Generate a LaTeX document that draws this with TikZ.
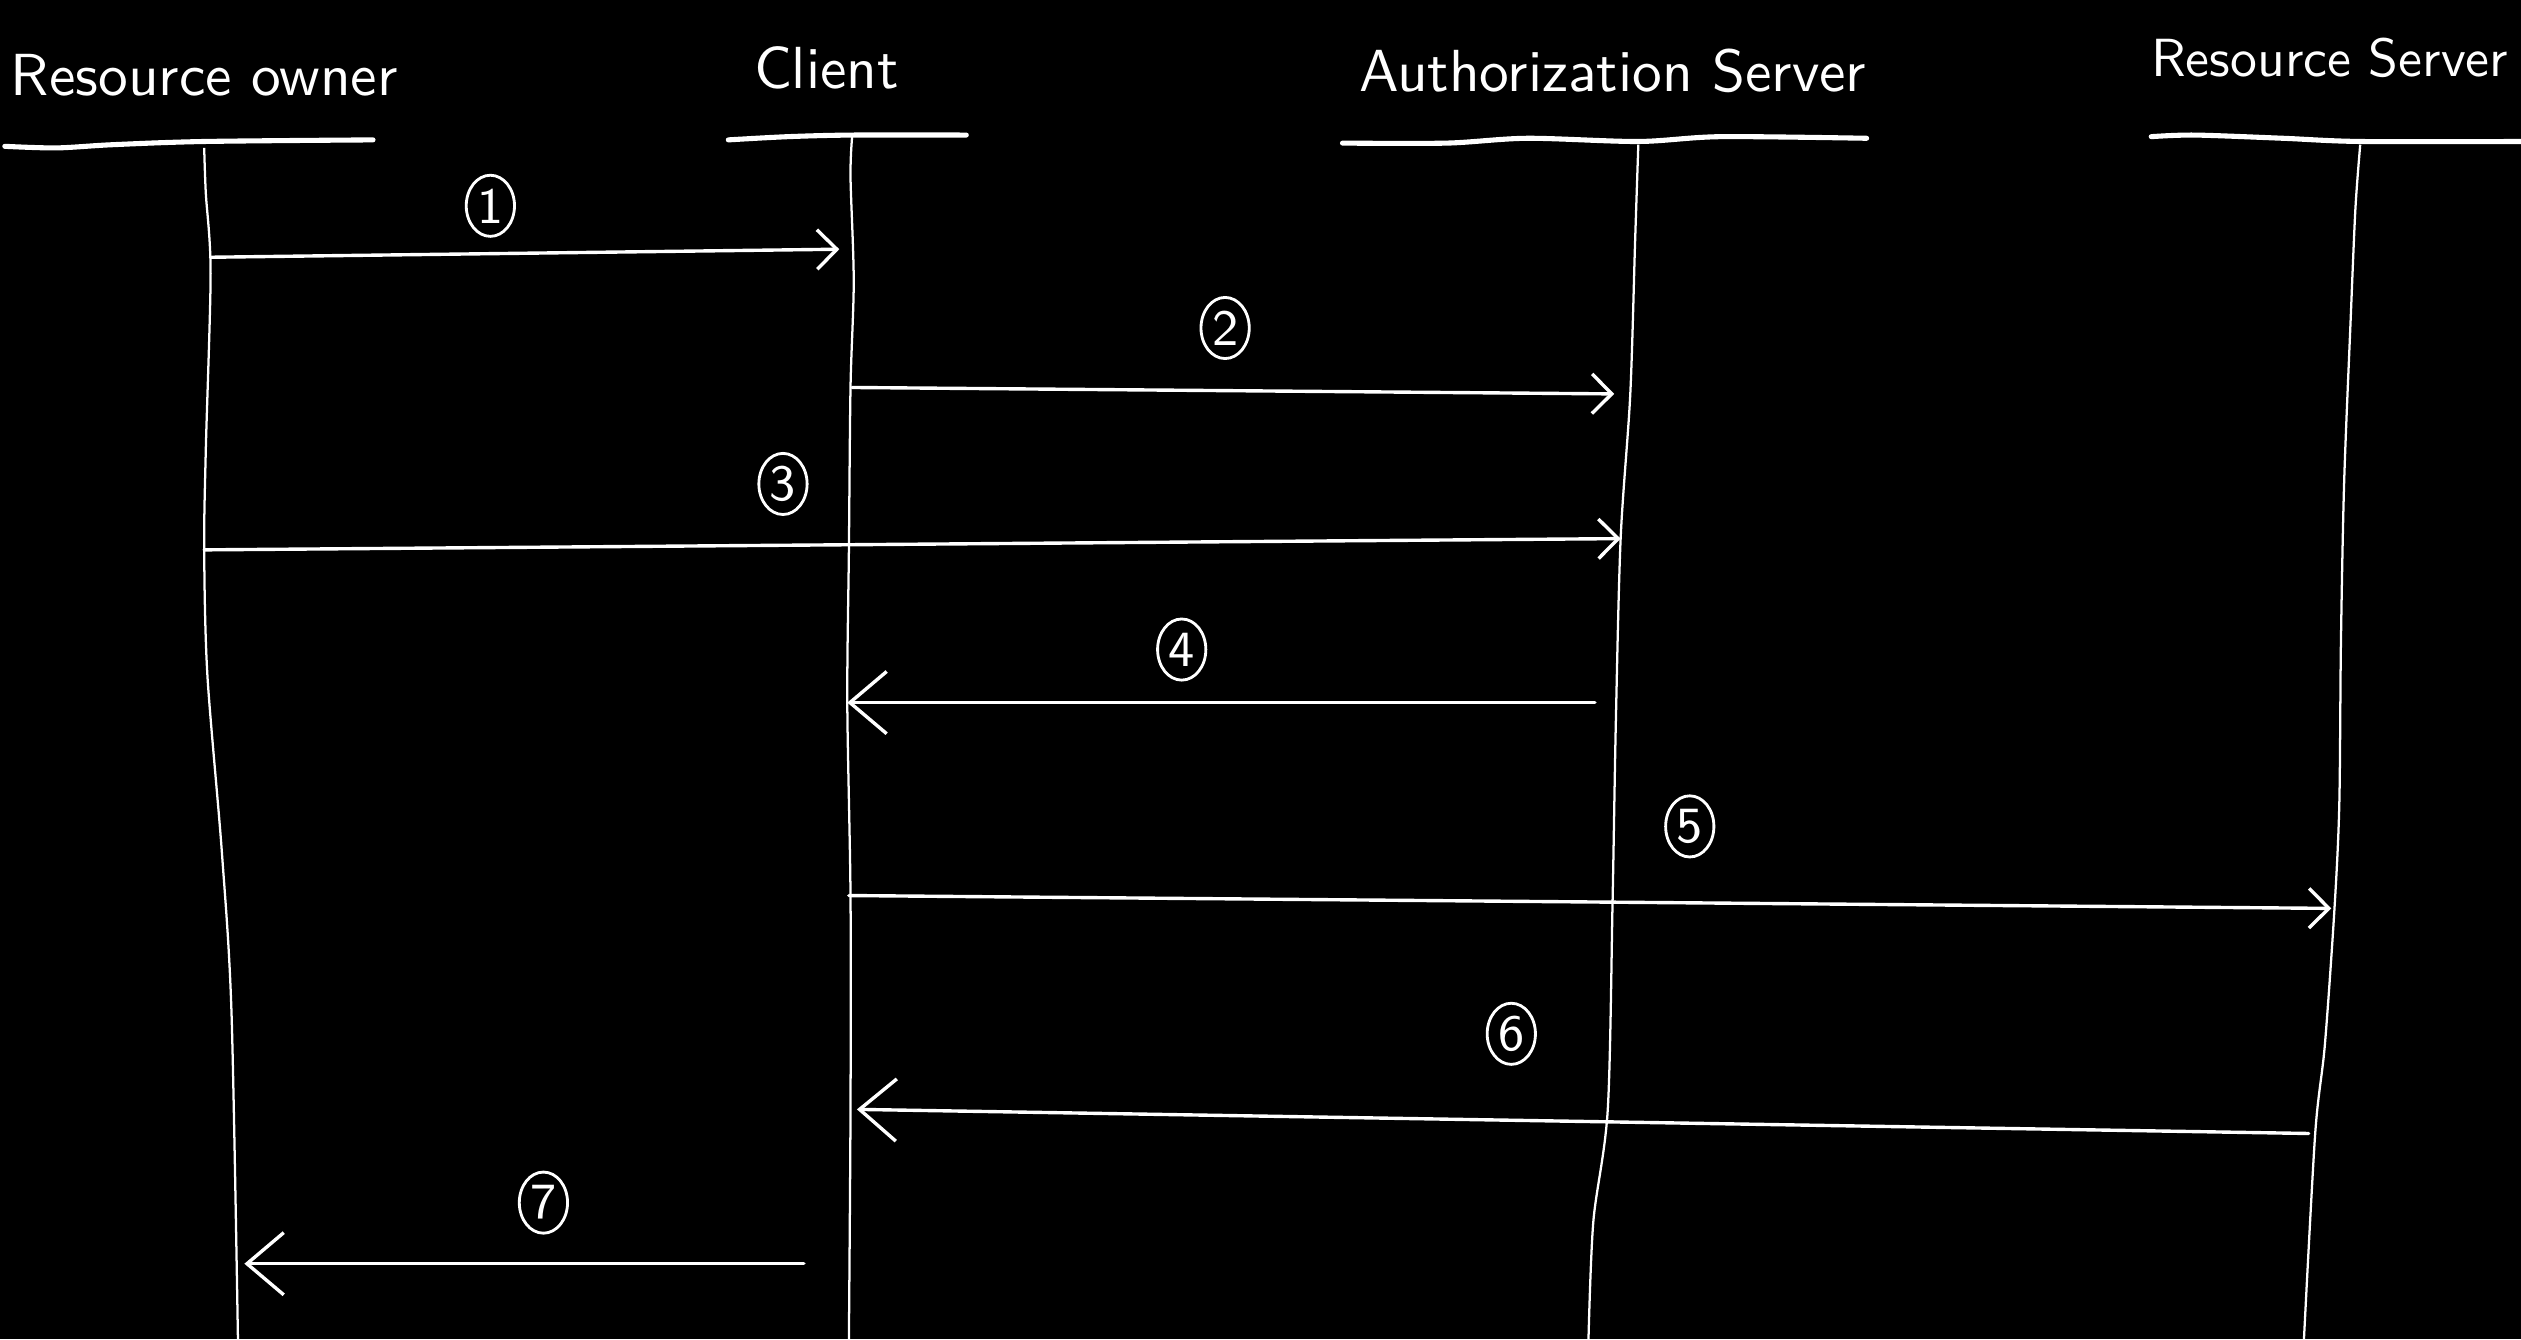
\documentclass[tikz,border=0pt]{standalone}
\usepackage{tikz}
\usetikzlibrary{arrows.meta,shapes.geometric}

\begin{document}
\begin{tikzpicture}[
  x=0.01cm, y=-0.01cm,
  head/.style={text=white, inner sep=0pt, font=\sffamily\fontsize{10.5}{12}\selectfont},
  bar/.style={draw=white, line width=0.9pt, line cap=round},
  life/.style={draw=white, line width=0.4pt},
  msg/.style={draw=white, line width=0.6pt, line cap=round,
    -{Straight Barb[length=3.5pt, width=7pt, line width=0.6pt]}},
  back/.style={draw=white, line width=0.6pt, line cap=round,
    -{Straight Barb[length=6.5pt, width=11pt, line width=0.6pt]}},
  num/.style={draw=white, ellipse, line width=0.5pt, text=white,
    minimum width=0.3cm, minimum height=0.38cm, inner sep=0pt,
    font=\sffamily\small}
]
  \fill[black] (0,0) rectangle (1568,833);
  \useasboundingbox (0,0) rectangle (1568,833);

  % participants
  \node[head] (ro) at (127,47) {Resource owner};
  \node[head] (cl) at (514,42) {Client};
  \node[head] (as) at (1003,44) {Authorization Server};
  \node[head, font=\sffamily\fontsize{9.5}{11}\selectfont] (rs) at (1449,36) {Resource Server};

  \draw[bar] plot[smooth] coordinates {(3,91) (35,92) (70,90) (127,88) (232,87)};
  \draw[bar] plot[smooth] coordinates {(453,87) (490,85) (530,84) (601,84)};
  \draw[bar] plot[smooth] coordinates {(835,89) (900,89) (950,86) (1019,88) (1070,85) (1161,86)};
  \draw[bar] plot[smooth] coordinates {(1338,85) (1365,84) (1420,86) (1468,88) (1568,88)};

  % lifelines
  \draw[life] plot[smooth] coordinates {(127,92) (128,120) (131,170) (128,280) (127,342)
    (129,420) (138,530) (144,630) (148,833)};
  \draw[life] plot[smooth] coordinates {(530,85) (529,110) (531,175) (529,241) (528,342)
    (527,437) (529,557) (529,690) (528,833)};
  \draw[life] plot[smooth] coordinates {(1019,90) (1017,150) (1014,245) (1008,335) (1005,450)
    (1003,560) (1000,690) (991,760) (988,833)};
  \draw[life] plot[smooth] coordinates {(1468,90) (1465,130) (1462,200) (1458,300) (1456,400)
    (1455,500) (1452,565) (1446,650) (1440,705) (1433,833)};

  % message ends
  \coordinate (ro1) at (131,160);  \coordinate (cl1) at (522,155);
  \coordinate (cl2) at (530,241);  \coordinate (as2) at (1004,245);
  \coordinate (ro3) at (127,342);  \coordinate (as3) at (1008,335);
  \coordinate (as4) at (992,437);  \coordinate (cl4) at (527,437);
  \coordinate (cl5) at (528,557);  \coordinate (rs5) at (1450,565);
  \coordinate (rs6) at (1436,705); \coordinate (cl6) at (533,690);
  \coordinate (cl7) at (500,786);  \coordinate (ro7) at (152,786);

  \draw[msg] (ro1) -- (cl1);
  \draw[msg] (cl2) -- (as2);
  \draw[msg] (ro3) -- (as3);
  \draw[back] (as4) -- (cl4);
  \draw[msg] (cl5) -- (rs5);
  \draw[back] (rs6) -- (cl6);
  \draw[back] (cl7) -- (ro7);

  % step numbers
  \node[num] (n1) at (305,128) {1};
  \node[num] (n2) at (762,204) {2};
  \node[num] (n3) at (487,301) {3};
  \node[num] (n4) at (735,404) {4};
  \node[num] (n5) at (1051,514) {5};
  \node[num] (n6) at (940,643) {6};
  \node[num] (n7) at (338,748) {7};
\end{tikzpicture}
\end{document}
